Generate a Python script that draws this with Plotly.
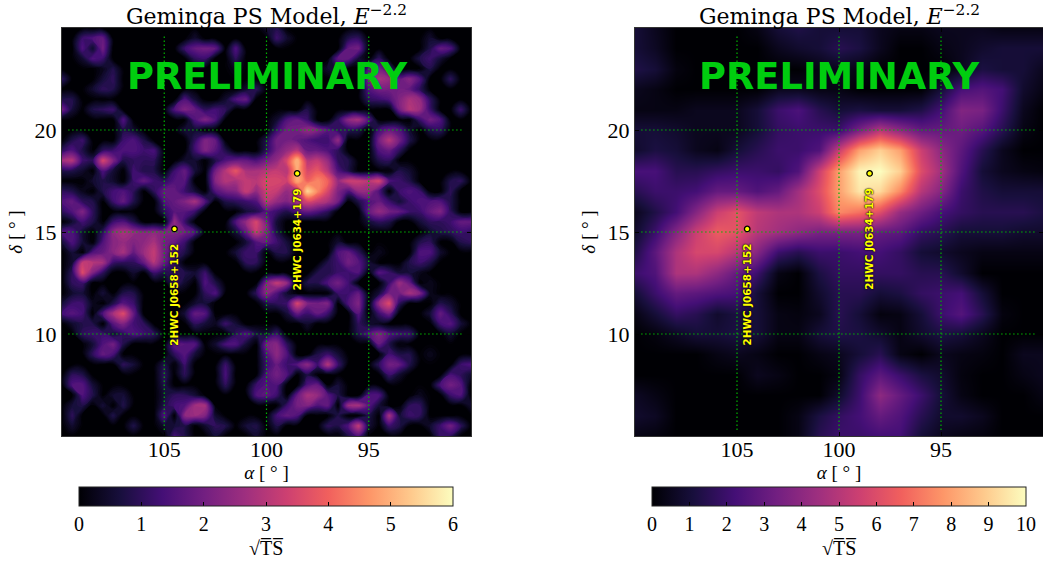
import plotly.graph_objects as go

W, H = 1043, 562

# Right ascension / declination of the map samples (degrees)
ra_fine = [110 - 0.5 * i for i in range(41)]
dec_fine = [25 - 0.5 * j for j in range(41)]
ra_coarse = [110 - i for i in range(21)]
dec_coarse = [25 - j for j in range(21)]

# Left map, sqrt(TS): one dict per row, column index -> value (all else 0)
sig_left_rows = [
{20:.5,21:.8},
{2:1.2,3:1.5,4:1.8,13:.5,21:1.2,22:.5,28:.8,29:1,36:.5},
{2:1.5,3:.5,4:2,12:1.2,13:1.8,14:2,15:1.8,17:1.5,28:1.8,29:2,36:.8,37:1.8,38:1.5},
{2:.5,3:1.5,4:1.2,13:1,14:1.2,17:1,27:1.8,28:1.8,29:.6,31:1,35:.8,36:1.2,37:.6},
{4:.3,5:.8,17:.3,26:.5,27:.6,30:1.5,31:2,32:1.2,36:.8},
{0:1,4:.6,5:1,30:2,31:2.8,32:2.5,33:1.8,34:2.3,35:1.5,38:1},
{3:.5,4:1,5:.8,18:.5,19:1,30:1.5,31:2,32:2,33:2,34:1.8,35:1},
{0:.8,1:.8,12:1.5,13:.6,16:.5,17:1.5,18:1.8,30:1,31:1.2,32:1.5,33:2.2,34:2.8,35:2.5,36:1},
{0:2,1:.6,3:.8,4:1,5:1.2,11:1.5,12:2.2,13:1.8,14:1,15:1.3,16:1,24:.8,33:2,34:3,35:2.6,36:1.2,39:1.2},
{6:1.5,13:1.5,14:2.2,15:1.5,21:.5,22:1.5,23:1.8,24:1.2,27:1,28:2.4,29:2.8,30:1.5,35:1.2,36:2,37:1.5},
{6:.8,7:.5,12:.6,13:.5,21:1.2,22:2,23:2,24:2.5,25:2.2,26:1.6,27:1,28:1,29:.8,31:1.3,32:1.8,33:1.5,34:.5,36:.8,37:1},
{1:.8,2:1.2,6:1.2,7:1.5,8:.8,13:1,14:2.2,15:1.8,20:.8,21:2,22:2,23:1.8,24:1.5,25:1.2,26:1.2,27:2.5,31:2,32:3,33:2,34:.8},
{0:1,1:1.5,2:.8,4:1,5:1.2,6:1.5,7:1.5,8:1.2,9:1.4,13:1.2,14:2.2,15:1.6,16:.8,20:1,21:2,22:2.5,23:3,24:1.8,25:1.8,26:1.5,27:1,31:1.5,32:1.8,33:1},
{0:2.7,1:3,2:1.2,3:1,4:3.5,5:2.2,6:.8,7:1,8:1,9:1,12:.5,13:.5,15:.8,16:1.5,17:1.8,18:1.8,19:1.5,20:2,21:2.5,22:3.5,23:5.2,24:3,25:3.2,26:2.5,27:1,28:.8,31:.8,32:1},
{0:.8,1:.8,2:.5,4:1.5,5:.6,7:1.3,8:.8,9:.8,11:1.2,12:1.8,13:.6,15:2,16:3,17:3.8,18:2.8,19:2.8,20:3,21:3.2,22:3,23:5,24:3.5,25:3.8,26:3,27:1.5,28:.8,33:.8,34:.5},
{3:.5,4:.8,5:.5,7:1.2,8:1.8,9:1.2,10:1,11:1.5,12:1.6,15:2.3,16:3,17:2.8,18:3.2,19:3,20:3.5,21:3.5,22:3.3,23:5,24:4,25:4.5,26:4,27:2.5,28:3.3,29:3.3,30:3,31:3.5,32:1.5,33:1.2,34:.8,38:.8,39:1},
{0:1,1:.8,2:.3,4:.8,5:1.3,6:1.5,7:1,9:1,10:1.8,11:1.8,12:1.2,13:.6,15:1.5,16:2,17:2.2,18:3.3,19:2.5,20:3.3,21:3.2,22:2.5,23:3,24:5.5,25:4.5,26:3.5,27:2.2,28:1.5,29:2.5,30:2.5,31:1.5,33:1.2,34:1.5,35:1.2,38:1},
{0:1.5,1:1.8,2:1,3:.8,5:1.2,6:1.8,7:.8,10:1.5,11:1.8,12:2.2,13:2.8,14:1.5,16:.8,17:1,18:1.2,19:1.5,20:3,21:2.5,22:2.2,23:2.8,24:3.5,25:3.2,26:2.8,27:2,29:.8,30:1.5,31:1.8,32:1.2,33:.6,34:1.2,35:1.5,36:1.5,37:1.5,38:.8},
{0:1,1:1.5,2:2.2,3:1,10:1,11:1.6,12:1.6,13:1.2,18:.6,19:.8,20:1.5,21:1.2,22:.8,23:1.5,24:1.8,25:1.5,26:1,30:1.8,31:2.5,32:2,33:1.8,34:1.2,35:1.2,36:1.8,37:2.2,38:1},
{1:.5,2:1.3,3:.8,5:1.2,6:1.5,7:.8,11:2.5,12:1.2,17:1.5,18:2.5,19:3.5,20:2,21:.6,30:.6,31:1,32:.8,35:.6,36:1,37:1,38:1.2,39:1.8,40:1.8},
{0:1.5,1:1.5,2:.6,4:1,5:2.4,6:2.8,7:2.5,8:2.3,9:2.4,10:2.2,11:2.2,12:2,13:1.5,17:.6,18:1.8,19:3.2,20:2.2,21:.8,36:.5,37:.8,38:1,39:1.2,40:1},
{0:.6,1:1.5,2:.6,4:1.5,5:2.3,6:2.5,7:2.2,8:2.4,9:2.8,10:2,11:1.8,12:1.2,18:.6,19:1.5,20:1.8,21:1.2,22:.6,27:.5,35:.8,36:1,39:.8,40:1},
{1:.6,3:1.5,4:1.8,5:2.3,6:2.8,7:1.8,8:2.6,9:3.2,10:2,11:1.3,12:.8,17:.6,18:1.2,19:1.2,21:.8,22:.8,27:1.5,28:1.8,29:1,31:.3,35:1.5,36:1.5,37:.5},
{1:.5,2:3.2,3:3,4:2.8,5:1.2,6:1,7:1,8:1.8,9:3,10:1.8,11:1,18:1,19:1,26:.8,27:1.2,28:2,29:1.6,30:.6,34:.8,35:1.2,36:.8},
{1:1,2:3.6,3:2.2,4:1,7:.5,9:1.2,10:.8,11:1,12:.8,13:.5,14:1.2,25:.8,26:.8,27:1.2,28:1.2,29:1.5,31:1.6,32:1.2,33:.6,34:.6,35:.3},
{1:1,2:1.2,11:1.2,12:.5,14:1.5,15:.8,20:2.2,21:3.2,22:2.5,24:.8,25:.8,26:1.5,27:2,28:1.3,32:1.2,33:2.6,34:1.8,36:.3},
{1:.5,2:.6,4:.6,6:.8,7:.8,14:1,15:1.5,19:1,20:2.4,21:1.5,22:.5,27:1.2,28:1.2,29:1.8,31:.6,32:2,33:2,34:2.8,35:2.2,36:.3},
{0:.6,1:1.2,2:1.2,3:.3,5:.8,6:1.6,7:1.2,13:.5,14:.6,20:.8,21:1,22:1.2,23:3.5,24:2.2,25:2,26:2.2,28:1.5,29:2.2,31:2.5,32:3.6,33:1,37:.8,38:.5},
{0:1.3,1:1.6,2:1.3,4:1.5,5:2.8,6:3.6,7:1.8,12:.6,13:1.8,14:1.6,22:.6,23:1.8,24:1.2,25:1.8,26:1.2,29:1.6,31:1.2,32:2,36:.6,37:1.8,38:1},
{1:.5,2:.8,3:.8,5:1.6,6:2.2,7:1.3,8:1,13:1,14:.6,15:.3,16:1.2,17:.6,24:.5,29:1,30:.5,31:.3,37:1.3,38:1.6,39:.6},
{2:1,3:1.2,4:1.2,5:.6,6:1,7:1.5,8:1.2,9:1,17:1,18:1.5,19:.8,20:.6,21:1.2,29:.8,30:1.5,31:2.2,32:1.5,33:1.3,34:1.2,38:.5},
{3:.6,4:1.5,5:2,6:.8,11:1.8,12:1.6,13:1.6,15:.5,16:1.4,17:1.5,18:.6,20:2,21:2.3,22:1,31:1.8,32:.8},
{3:1,4:1.8,5:1.4,11:1,12:1.6,13:.6,20:1.5,21:2.4,22:1.5,25:.8,26:1.2,27:.6,32:1.3,33:.8,34:.8,36:.3},
{6:1,7:.6,10:.8,12:1.2,16:1.2,20:1.2,21:1.8,22:1.2,23:1.6,24:2.4,25:1.2,26:3,27:1.2,31:1,32:2,33:1.8,34:.8,39:1.2,40:1.5},
{1:1,2:.8,10:1,12:1,16:1.4,20:1.5,21:2,22:1.5,24:.8,32:1.2,33:.5,38:1.4,39:1,40:.5},
{1:1.5,2:1.6,3:.6,10:.8,16:1,19:1.2,20:1.5,21:1.5,24:1.5,25:1.8,27:.6,37:1.4,38:2,39:1.6},
{2:1.5,3:.8,5:.5,6:.6,10:.6,11:1,12:1,13:.6,19:1.5,20:1.7,21:1.2,23:1.8,24:2.8,25:2.5,26:1.6,27:.8,30:1.5,31:1.5,35:.3,38:1.2,39:1.5},
{1:.6,2:.8,4:.6,6:.8,10:.8,11:1.3,12:1.5,13:2.7,14:2.8,22:1.2,23:2,24:2.2,25:1.5,26:1.8,28:2.6,29:2.8,30:1.6,31:.6,34:1,35:1,40:.5},
{1:1,5:.8,10:1.5,12:2.4,13:2.6,14:2.2,15:.5,21:1.3,22:1.8,23:1.5,27:.8,30:.8,32:2.8,33:.6,34:1.2,35:1},
{1:.5,7:.8,10:.5,11:.6,12:.8,14:.5,15:1,16:.8,18:.6,19:.8,21:.8,26:1,27:.8,28:1.5,29:3.2,30:.6,32:1.2,33:.8,36:.5,37:1.2,38:2,39:1},
{11:1.3,12:.8,15:.6,19:.5,28:.8,29:1.5,37:1.2,38:1},
]

# Right map, sqrt(TS) on the 1 degree grid
sig_right = [
[1,.5,0,0,0,0,.3,1,1.3,1,1,1,.5,.3,.3,.5,.5,.5,.3,.3,.3],
[1,.6,0,0,0,0,0,.5,.8,1,1.5,1.2,.5,0,0,.3,.5,.8,1,1,1],
[1.3,1,.2,0,0,0,0,0,0,.3,.5,.3,0,0,0,0,.5,1.2,1,1,.5],
[.5,.3,0,0,0,0,0,.5,.5,.3,.3,0,0,0,0,1,2.3,2.6,2.2,.8,.3],
[.3,.3,.3,.5,.5,.5,1,2,2.4,1.5,1,1.2,1,1,1.3,2.2,3.7,3.5,2,.5,0],
[1,1,.8,.5,.5,.5,1,1.8,2,2,2,3.5,5,4,3,3,3.2,2.6,1.5,.3,0],
[.8,1.2,1,.5,.3,1,1.5,2,2,2.5,5.5,8,9,8,5.5,4,2.8,1.5,.5,0,0],
[2.3,2.3,1.5,1.5,1.8,2,2,1.8,2.5,5.5,8,9.8,10,9,6,4.5,2.5,1,.5,.3,.2],
[1.5,2,2,2.2,3,3,2.5,3,4.5,6,8,9.5,9.2,7.5,5,3.8,2,1.3,1,1,1],
[.5,1.3,2.2,3.8,5.5,6.2,5.2,4.8,4.8,5.5,7.5,7,6,4.2,3.2,2.3,1.8,1.5,1.5,1.5,1.2],
[.8,2,3.8,5.5,6.5,6.2,5,4.5,4,3.5,3.5,3.5,3,2.8,1.8,1.5,1,1,1,.8,.8],
[1.3,2.8,4.8,5.8,5.8,5,3.8,2,1.5,2,2,2.2,2.2,1.8,1,.8,.5,.3,.3,.3,.3],
[2,2.5,4.8,4.8,4,3,2,.3,0,1.2,1.8,1.8,1.8,1.8,1.5,1.5,.8,0,0,0,0],
[1,2,3,2.8,2.5,2.3,1,0,0,.8,1.5,1.5,1,1.2,1.8,2,2.2,1,0,0,0],
[.3,1,1.8,1.5,.8,1.2,1,.3,.2,.5,1.5,1,.2,.3,1,2,2.6,1.5,.2,0,0],
[0,.2,.6,1,1,1.2,1,.3,.3,1,1.3,1.2,.8,.3,.8,1.2,1,.5,0,0,0],
[0,0,0,0,.3,.5,.3,0,0,.3,.5,1,1.5,.3,0,.5,.3,.2,0,.5,.5],
[0,0,0,0,0,0,.5,.3,0,0,.3,1.8,2.8,2,1.2,.8,.2,0,0,.3,.5],
[.6,.3,0,0,0,0,0,0,0,0,.8,2,4,3,2,1,.3,0,0,0,.3],
[.8,.6,0,0,0,0,0,0,.3,1.2,1.8,2.2,3,2.5,1.5,.8,.8,.5,0,0,0],
[.3,.2,0,0,0,0,0,0,.3,1.5,2,2,2.2,2.2,1,.5,.3,.2,0,0,0],
]

source_names = ["2HWC J0658+152", "2HWC J0634+179"]
source_ra = [104.5, 98.5]
source_dec = [15.15, 17.87]
label_ra = [104.5, 98.5]
label_dec = [11.95, 14.65]

grid_ra = [105, 100, 95]
grid_dec = [10, 15, 20]
left_ticks = [0, 1, 2, 3, 4, 5, 6]
right_ticks = [0, 1, 2, 3, 4, 5, 6, 7, 8, 9, 10]

TITLE = "Geminga PS Model, <i>E</i><sup>−2.2</sup>"
SERIF = "Liberation Serif"
TITLE_FONT = "DejaVu Serif"
SANS = "DejaVu Sans"
GREEN = "rgb(0,205,15)"

z_left = [[row.get(i, 0) for i in range(41)] for row in sig_left_rows]

fig = go.Figure()
panels = [
    (62, 471, "x", "y", "xaxis", "yaxis", "coloraxis", z_left, ra_fine, dec_fine, 79),
    (635, 1043, "x2", "y2", "xaxis2", "yaxis2", "coloraxis2", sig_right, ra_coarse, dec_coarse, 652),
]
for x0, x1, xr, yr, xa, ya, ca, z, xs, ys, bar_left in panels:
    fig.add_trace(go.Heatmap(z=z, x=xs, y=ys, xaxis=xr, yaxis=yr, coloraxis=ca,
                             zsmooth="best", hoverinfo="skip"))
    if ca == "coloraxis":
        # rounder blobs on top of the heatmap of the same values; the heatmap keeps the colour bar
        fig.add_trace(go.Contour(z=z, x=xs, y=ys, xaxis=xr, yaxis=yr, showscale=False,
                                 colorscale="Magma", zmin=0, zmax=6, autocontour=False,
                                 contours=dict(start=0, end=6, size=0.1, coloring="fill"),
                                 line=dict(width=0, smoothing=1.3), hoverinfo="skip"))
    for r in grid_ra:
        fig.add_trace(go.Scatter(x=[r, r], y=[5.3, 24.6], xaxis=xr, yaxis=yr, mode="lines",
                                 line=dict(color="#00b400", width=1.2, dash="1.5px 2.5px"),
                                 showlegend=False, hoverinfo="skip"))
    for d in grid_dec:
        fig.add_trace(go.Scatter(x=[109.7, 90.35], y=[d, d], xaxis=xr, yaxis=yr, mode="lines",
                                 line=dict(color="#00b400", width=1.2, dash="1.5px 2.5px"),
                                 showlegend=False, hoverinfo="skip"))
    fig.add_trace(go.Scatter(x=source_ra, y=source_dec, xaxis=xr, yaxis=yr, mode="markers",
                             marker=dict(color="#ffff00", size=5.5, line=dict(color="black", width=1.3)),
                             showlegend=False, hoverinfo="skip"))
    axis = dict(ticks="inside", ticklen=4, tickcolor="black", showline=True, mirror="ticks",
                linecolor="#333333", linewidth=1, showgrid=False, zeroline=False,
                tickfont=dict(family=SERIF, size=22, color="black"))
    fig.update_layout({
        xa: dict(axis, domain=[x0 / W, x1 / W], range=[110, 90], tickvals=grid_ra,
                 ticklabelstandoff=-6,
                 anchor=yr, title=dict(text="<i>α</i> [ ° ]", standoff=1,
                                       font=dict(family=SERIF, size=19, color="black"))),
        ya: dict(axis, domain=[1 - 436 / H, 1 - 28 / H], range=[5, 25], tickvals=grid_dec,
                 anchor=xr, title=dict(text="<i>δ</i> [ ° ]", standoff=6,
                                       font=dict(family=SERIF, size=19, color="black"))),
    })
    fig.add_annotation(x=(x0 + x1) / 2 / W, y=1 - 15 / H, xref="paper", yref="paper",
                       xanchor="center", yanchor="middle",
                       text=TITLE, showarrow=False, font=dict(family=TITLE_FONT, size=22, color="black"))
    fig.add_annotation(x=100, y=22.6, xref=xr, yref=yr, text="<b>PRELIMINARY</b>", showarrow=False,
                       font=dict(family=SANS, size=36.8, color=GREEN))
    fig.add_annotation(x=(bar_left + 187) / W, y=1 - 548 / H, xref="paper", yref="paper",
                       xanchor="center", yanchor="middle", text="√T̅S̅", showarrow=False,
                       font=dict(family=SERIF, size=20, color="black"))
    for name, lx, ly in zip(source_names, label_ra, label_dec):
        fig.add_annotation(x=lx, y=ly, xref=xr, yref=yr, text=f"<b>{name}</b>", showarrow=False,
                           textangle=-90,
                           font=dict(family=SANS, size=10.4, color="#ffff00",
                                     shadow="0 0 1.5px #000, 0 0 1.5px #000"))

def bar(left, ticks):
    return dict(orientation="h", x=left / W, xanchor="left", xref="paper", y=1 - 487 / H,
                yanchor="top", yref="paper", lenmode="pixels", len=374, thickness=19,
                thicknessmode="pixels", xpad=0, ypad=0, outlinecolor="#222222", outlinewidth=1,
                ticks="inside", ticklen=4, tickcolor="black", tickvals=ticks,
                tickfont=dict(family=SERIF, size=20, color="black"))

fig.update_layout(
    width=W, height=H, paper_bgcolor="white", plot_bgcolor="black", showlegend=False,
    margin=dict(l=0, r=0, t=0, b=0, autoexpand=False),
    coloraxis=dict(colorscale="Magma", cmin=0, cmax=6, colorbar=bar(79, left_ticks)),
    coloraxis2=dict(colorscale="Magma", cmin=0, cmax=10, colorbar=bar(652, right_ticks)),
)

fig.write_html("out.html", config=dict(displayModeBar=False),
               post_script="document.body.style.margin='0';")
